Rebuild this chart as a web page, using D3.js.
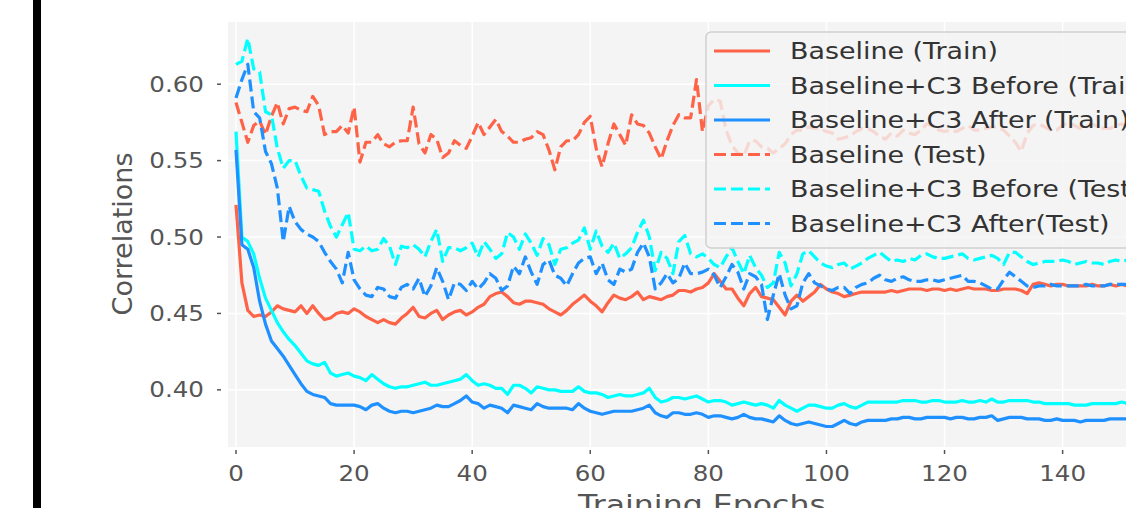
<!DOCTYPE html>
<html>
<head>
<meta charset="utf-8">
<script src="https://cdn.jsdelivr.net/npm/d3@7"></script>
<style>
  body { margin: 0; background: #fff; }
  svg { display: block; font-family: 'DejaVu Sans', sans-serif; }
  .tick-label { fill: #555; font-size: 21px; }
  .axis-title { fill: #555; font-size: 27px; }
  .legend-label { fill: #333; font-size: 23px; }
</style>
</head>
<body>
<div id="chart"></div>
<script>
// epoch 0..152
const baselineTrain = [
  0.521,0.470,0.452,0.448,0.449,0.448,0.451,0.455,0.453,0.452,
  0.451,0.455,0.450,0.455,0.450,0.446,0.447,0.450,0.451,0.450,
  0.453,0.451,0.448,0.446,0.444,0.446,0.444,0.443,0.447,0.450,
  0.454,0.448,0.447,0.450,0.452,0.446,0.449,0.451,0.452,0.449,
  0.451,0.454,0.456,0.461,0.463,0.464,0.461,0.457,0.456,0.458,
  0.458,0.457,0.456,0.453,0.451,0.449,0.452,0.456,0.459,0.462,
  0.458,0.455,0.451,0.457,0.462,0.460,0.459,0.461,0.464,0.459,
  0.461,0.460,0.459,0.461,0.462,0.465,0.465,0.464,0.466,0.467,
  0.470,0.476,0.471,0.466,0.466,0.460,0.455,0.463,0.467,0.461,
  0.460,0.459,0.454,0.449,0.458,0.462,0.458,0.461,0.464,0.469,
  0.466,0.464,0.463,0.461,0.462,0.463,0.464,0.464,0.464,0.464,
  0.464,0.465,0.464,0.465,0.466,0.466,0.466,0.465,0.466,0.466,
  0.465,0.466,0.465,0.466,0.467,0.466,0.466,0.466,0.465,0.465,
  0.466,0.466,0.466,0.465,0.463,0.469,0.470,0.469,0.468,0.469,
  0.469,0.468,0.468,0.468,0.468,0.469,0.468,0.468,0.469,0.468,
  0.469,0.468,0.468];

const beforeTrain = [
  0.569,0.500,0.497,0.489,0.473,0.460,0.452,0.444,0.438,0.433,
  0.429,0.424,0.419,0.417,0.416,0.418,0.411,0.409,0.410,0.411,
  0.409,0.408,0.406,0.410,0.407,0.404,0.402,0.401,0.402,0.402,
  0.403,0.404,0.405,0.403,0.403,0.404,0.405,0.406,0.407,0.410,
  0.406,0.403,0.404,0.403,0.401,0.401,0.397,0.403,0.403,0.401,
  0.398,0.402,0.401,0.400,0.400,0.399,0.399,0.399,0.402,0.399,
  0.398,0.398,0.397,0.395,0.396,0.397,0.396,0.396,0.397,0.398,
  0.401,0.395,0.392,0.393,0.395,0.395,0.394,0.395,0.396,0.394,
  0.392,0.393,0.393,0.392,0.390,0.391,0.392,0.391,0.390,0.391,
  0.390,0.388,0.393,0.390,0.388,0.386,0.388,0.390,0.390,0.389,
  0.388,0.388,0.390,0.391,0.389,0.388,0.390,0.392,0.392,0.392,
  0.392,0.392,0.392,0.393,0.393,0.393,0.392,0.392,0.393,0.393,
  0.392,0.392,0.392,0.393,0.392,0.392,0.393,0.392,0.394,0.392,
  0.392,0.393,0.393,0.393,0.393,0.392,0.392,0.391,0.391,0.391,
  0.391,0.391,0.390,0.390,0.390,0.391,0.391,0.391,0.391,0.391,
  0.392,0.391,0.391];

const afterTrain = [
  0.557,0.495,0.492,0.480,0.458,0.443,0.432,0.427,0.422,0.416,
  0.410,0.404,0.399,0.397,0.396,0.395,0.391,0.390,0.390,0.390,
  0.390,0.389,0.387,0.390,0.391,0.388,0.386,0.385,0.386,0.386,
  0.385,0.386,0.387,0.388,0.390,0.389,0.389,0.391,0.393,0.396,
  0.392,0.391,0.388,0.390,0.389,0.388,0.385,0.390,0.389,0.388,
  0.387,0.391,0.389,0.388,0.388,0.388,0.388,0.387,0.391,0.388,
  0.386,0.385,0.384,0.385,0.386,0.386,0.386,0.386,0.387,0.388,
  0.390,0.385,0.383,0.382,0.385,0.385,0.384,0.384,0.385,0.384,
  0.382,0.383,0.383,0.382,0.381,0.382,0.384,0.382,0.381,0.381,
  0.380,0.379,0.383,0.380,0.378,0.377,0.378,0.379,0.378,0.377,
  0.376,0.376,0.378,0.380,0.378,0.377,0.379,0.380,0.380,0.380,
  0.380,0.381,0.381,0.382,0.382,0.381,0.381,0.382,0.382,0.382,
  0.382,0.381,0.382,0.382,0.381,0.381,0.382,0.382,0.383,0.380,
  0.381,0.382,0.382,0.382,0.381,0.381,0.381,0.380,0.380,0.381,
  0.380,0.380,0.380,0.379,0.380,0.380,0.380,0.380,0.381,0.381,
  0.381,0.381,0.381];

const baselineTest = [
  0.588,0.575,0.562,0.573,0.576,0.567,0.579,0.588,0.574,0.584,
  0.585,0.583,0.582,0.592,0.586,0.567,0.569,0.569,0.573,0.568,
  0.585,0.549,0.562,0.562,0.567,0.561,0.559,0.562,0.563,0.563,
  0.585,0.561,0.555,0.567,0.564,0.552,0.555,0.563,0.560,0.558,
  0.566,0.575,0.567,0.572,0.577,0.569,0.566,0.562,0.562,0.564,
  0.565,0.569,0.567,0.557,0.544,0.559,0.563,0.563,0.567,0.575,
  0.579,0.558,0.546,0.561,0.574,0.567,0.560,0.580,0.574,0.573,
  0.568,0.559,0.551,0.563,0.573,0.580,0.578,0.578,0.603,0.569,
  0.586,0.590,0.589,0.570,0.560,0.555,0.553,0.563,0.563,0.559,
  0.558,0.555,0.558,0.561,0.567,0.570,0.570,0.572,0.571,0.571,
  0.569,0.568,0.564,0.565,0.566,0.569,0.571,0.571,0.569,0.566,
  0.564,0.568,0.566,0.570,0.568,0.567,0.570,0.574,0.573,0.570,
  0.569,0.570,0.569,0.571,0.573,0.570,0.570,0.571,0.572,0.572,
  0.570,0.566,0.562,0.556,0.568,0.573,0.574,0.572,0.570,0.570,
  0.573,0.575,0.573,0.571,0.572,0.574,0.572,0.571,0.571,0.573,
  0.574,0.572,0.571];

const beforeTest = [
  0.613,0.615,0.630,0.610,0.608,0.582,0.580,0.558,0.545,0.550,
  0.550,0.540,0.532,0.531,0.530,0.517,0.507,0.500,0.508,0.516,
  0.492,0.491,0.494,0.491,0.492,0.499,0.494,0.482,0.494,0.493,
  0.495,0.492,0.487,0.497,0.505,0.484,0.493,0.493,0.491,0.493,
  0.496,0.487,0.497,0.492,0.486,0.489,0.503,0.500,0.492,0.502,
  0.496,0.488,0.499,0.495,0.482,0.492,0.493,0.496,0.498,0.506,
  0.492,0.504,0.494,0.490,0.496,0.486,0.489,0.493,0.503,0.511,
  0.500,0.478,0.490,0.486,0.476,0.497,0.501,0.489,0.487,0.489,
  0.486,0.482,0.480,0.487,0.493,0.484,0.476,0.488,0.480,0.475,
  0.467,0.470,0.490,0.483,0.468,0.476,0.489,0.491,0.487,0.483,
  0.481,0.480,0.482,0.483,0.479,0.481,0.483,0.486,0.488,0.490,
  0.487,0.484,0.485,0.484,0.486,0.485,0.488,0.489,0.487,0.486,
  0.486,0.487,0.488,0.489,0.486,0.485,0.486,0.487,0.488,0.486,
  0.482,0.490,0.490,0.487,0.484,0.482,0.483,0.484,0.484,0.484,
  0.485,0.484,0.482,0.483,0.484,0.483,0.483,0.482,0.484,0.485,
  0.484,0.485,0.485];

const afterTest = [
  0.591,0.603,0.613,0.582,0.578,0.556,0.548,0.532,0.497,0.520,
  0.510,0.505,0.502,0.500,0.497,0.490,0.484,0.479,0.470,0.490,
  0.472,0.466,0.462,0.461,0.467,0.466,0.461,0.460,0.467,0.469,
  0.466,0.473,0.461,0.468,0.480,0.471,0.459,0.470,0.469,0.465,
  0.471,0.466,0.470,0.476,0.473,0.465,0.468,0.481,0.476,0.487,
  0.477,0.469,0.482,0.485,0.475,0.473,0.468,0.476,0.483,0.486,
  0.487,0.476,0.483,0.472,0.469,0.479,0.477,0.479,0.490,0.496,
  0.487,0.466,0.470,0.476,0.470,0.473,0.483,0.476,0.476,0.477,
  0.479,0.475,0.467,0.474,0.482,0.477,0.466,0.476,0.474,0.469,
  0.446,0.462,0.476,0.462,0.453,0.455,0.470,0.476,0.470,0.468,
  0.466,0.465,0.467,0.467,0.463,0.467,0.469,0.470,0.473,0.475,
  0.472,0.471,0.473,0.474,0.472,0.471,0.471,0.472,0.472,0.471,
  0.472,0.473,0.474,0.475,0.471,0.471,0.470,0.468,0.466,0.466,
  0.472,0.477,0.474,0.471,0.468,0.467,0.468,0.468,0.469,0.468,
  0.468,0.468,0.468,0.468,0.469,0.468,0.468,0.468,0.469,0.469,
  0.469,0.469,0.468];

const seriesNames = ['Baseline (Train)', 'Baseline+C3 Before (Train)', 'Baseline+C3 After (Train)',
                     'Baseline (Test)', 'Baseline+C3 Before (Test)', 'Baseline+C3 After(Test)'];
const seriesValues = [baselineTrain, beforeTrain, afterTrain, baselineTest, beforeTest, afterTest];
const seriesColors = ['tomato', '#00ffff', '#1e90ff', 'tomato', '#00ffff', '#1e90ff'];
const seriesDashed = [false, false, false, true, true, true];

const xTicks = [0, 20, 40, 60, 80, 100, 120, 140];
const yTicks = [0.40, 0.45, 0.50, 0.55, 0.60];

const width = 1126, height = 508;
const plot = { left: 228, right: 1176, top: 22, bottom: 447 };
const stretch = 1.17; // picture is a bit wider than tall

const x = d3.scaleLinear().domain([-1.355, 159.2]).range([plot.left, plot.right]);
const y = d3.scaleLinear().domain([0.3626, 0.6407]).range([plot.bottom, plot.top]);

const svg = d3.select('#chart').append('svg')
    .attr('width', width)
    .attr('height', height);

svg.append('rect')
    .attr('x', 33).attr('y', 0)
    .attr('width', 8).attr('height', height)
    .attr('fill', '#000');

svg.append('defs').append('clipPath').attr('id', 'plot-clip')
  .append('rect')
    .attr('x', plot.left).attr('y', plot.top)
    .attr('width', plot.right - plot.left).attr('height', plot.bottom - plot.top);

svg.append('rect')
    .attr('x', plot.left).attr('y', plot.top)
    .attr('width', plot.right - plot.left).attr('height', plot.bottom - plot.top)
    .attr('fill', '#f4f4f4');

// grid
svg.append('g').selectAll('line').data(xTicks).join('line')
    .attr('x1', d => x(d)).attr('x2', d => x(d))
    .attr('y1', plot.top).attr('y2', plot.bottom)
    .attr('stroke', '#fff').attr('stroke-width', 1.5);

svg.append('g').selectAll('line').data(yTicks).join('line')
    .attr('x1', plot.left).attr('x2', plot.right)
    .attr('y1', d => y(d)).attr('y2', d => y(d))
    .attr('stroke', '#fff').attr('stroke-width', 1.5);

// ticks + labels
svg.append('g').selectAll('line').data(yTicks).join('line')
    .attr('x1', 217).attr('x2', 221)
    .attr('y1', d => y(d)).attr('y2', d => y(d))
    .attr('stroke', '#555').attr('stroke-width', 1.5);

svg.append('g').selectAll('text').data(yTicks).join('text')
    .attr('class', 'tick-label')
    .attr('transform', d => `translate(204,${y(d)}) scale(${stretch},1)`)
    .attr('text-anchor', 'end')
    .attr('dy', '0.36em')
    .text(d => d.toFixed(2));

svg.append('g').selectAll('line').data(xTicks).join('line')
    .attr('x1', d => x(d)).attr('x2', d => x(d))
    .attr('y1', 450).attr('y2', 454)
    .attr('stroke', '#555').attr('stroke-width', 1.5);

svg.append('g').selectAll('text').data(xTicks).join('text')
    .attr('class', 'tick-label')
    .attr('transform', d => `translate(${x(d)},481) scale(${stretch},1)`)
    .attr('text-anchor', 'middle')
    .text(d => d);

svg.append('text')
    .attr('class', 'axis-title')
    .attr('transform', `translate(${(plot.left + plot.right) / 2},514) scale(${stretch},1)`)
    .attr('text-anchor', 'middle')
    .text('Training Epochs');

svg.append('text')
    .attr('class', 'axis-title')
    .attr('transform', 'translate(132,234) rotate(-90)')
    .attr('text-anchor', 'middle')
    .text('Correlations');

// lines
const series = seriesNames.map((name, i) => ({
  name, values: seriesValues[i], color: seriesColors[i], dashed: seriesDashed[i]
}));

const line = d3.line()
    .x((d, i) => x(i))
    .y(d => y(d));

svg.append('g').attr('clip-path', 'url(#plot-clip)')
  .selectAll('path').data(series).join('path')
    .attr('d', d => line(d.values))
    .attr('fill', 'none')
    .attr('stroke', d => d.color)
    .attr('stroke-width', 3.2)
    .attr('stroke-linejoin', 'round')
    .attr('stroke-dasharray', d => d.dashed ? '12,5' : null);

// legend
const legend = svg.append('g');
legend.append('rect')
    .attr('x', 706).attr('y', 32)
    .attr('width', 480).attr('height', 216)
    .attr('rx', 5)
    .attr('fill', '#f4f4f4').attr('fill-opacity', 0.8)
    .attr('stroke', '#d0d0d0').attr('stroke-width', 1.5);

const rowY = i => 51 + i * 34.5;

legend.selectAll('line').data(series).join('line')
    .attr('x1', 714).attr('x2', 770)
    .attr('y1', (d, i) => rowY(i)).attr('y2', (d, i) => rowY(i))
    .attr('stroke', d => d.color)
    .attr('stroke-width', 3.2)
    .attr('stroke-dasharray', d => d.dashed ? '12,5' : null);

legend.selectAll('text').data(series).join('text')
    .attr('class', 'legend-label')
    .attr('transform', (d, i) => `translate(790,${rowY(i)}) scale(${stretch},1)`)
    .attr('dy', '0.36em')
    .text(d => d.name);
</script>
</body>
</html>
